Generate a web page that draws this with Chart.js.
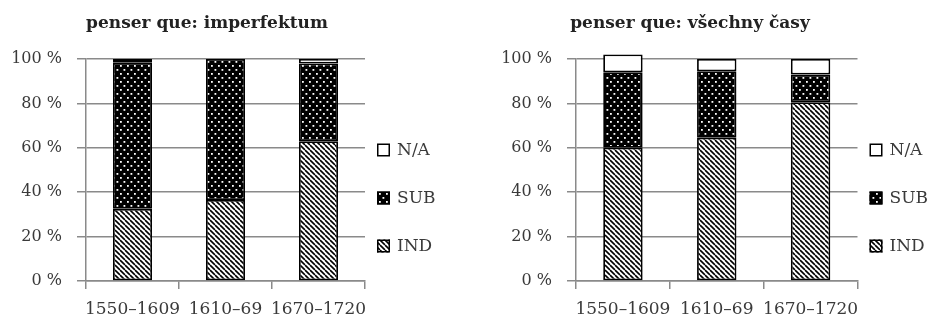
<!DOCTYPE html>
<html>
<head>
<meta charset="utf-8">
<script src="https://cdn.jsdelivr.net/npm/chart.js@4/dist/chart.umd.min.js"></script>
<style>
  html, body { margin: 0; padding: 0; background: #fff; }
  #wrap { display: flex; width: 931px; height: 317px; }
  canvas { display: block; }
</style>
</head>
<body>
<div id="wrap">
  <canvas id="c1" width="490" height="317"></canvas>
  <canvas id="c2" width="441" height="317"></canvas>
</div>
<script>
// ---- data ----
const categories = ['1550–1609', '1610–69', '1670–1720'];
const seriesNames = ['IND', 'SUB', 'N/A'];
const yTickLabels = ['0 %', '20 %', '40 %', '60 %', '80 %', '100 %'];

const titleLeft = 'penser que: imperfektum';
const indLeft = [32.5, 36.5, 63];
const subLeft = [66, 63.5, 35];
const naLeft  = [1.5, 0, 2];

const titleRight = 'penser que: všechny časy';
const indRight = [60, 64.5, 80.5];
const subRight = [34, 30, 12.5];
const naRight  = [8, 5.5, 7];

// ---- patterns ----
function makeHatch() {
  const s = 5;
  const c = document.createElement('canvas');
  c.width = s; c.height = s;
  const g = c.getContext('2d');
  g.fillStyle = '#fff'; g.fillRect(0, 0, s, s);
  g.strokeStyle = '#000'; g.lineWidth = 1.6;
  for (const o of [-s, 0, s]) {
    g.beginPath(); g.moveTo(o, 0); g.lineTo(o + s, s); g.stroke();
  }
  return g.createPattern(c, 'repeat');
}
function makeDots() {
  const w = 7, h = 8;
  const c = document.createElement('canvas');
  c.width = w; c.height = h;
  const g = c.getContext('2d');
  g.fillStyle = '#000'; g.fillRect(0, 0, w, h);
  g.fillStyle = '#fff';
  g.fillRect(1, 1, 1.8, 1.8);
  g.fillRect(4.5, 5, 1.8, 1.8);
  return g.createPattern(c, 'repeat');
}
const hatch = makeHatch();
const dots = makeDots();
const fills = [hatch, dots, '#ffffff'];

const FONT = '"DejaVu Serif", serif';
const GRID = '#8a8a8a';
const TEXT = '#3a3a3a';

function customPlugin(title, titleX) {
  return {
    id: 'custom',
    afterDraw(chart) {
      const ctx = chart.ctx;
      const ca = chart.chartArea;
      ctx.save();
      // title
      ctx.fillStyle = '#222';
      ctx.font = 'bold 17px ' + FONT;
      ctx.textAlign = 'center';
      ctx.textBaseline = 'alphabetic';
      ctx.fillText(title, titleX, 28);
      // legend (reverse order)
      const order = [2, 1, 0];
      const ys = [150, 198, 246];
      const bx = ca.right + 12;
      ctx.font = '17px ' + FONT;
      ctx.textAlign = 'left';
      ctx.textBaseline = 'middle';
      order.forEach((di, i) => {
        const y = ys[i];
        ctx.fillStyle = fills[di];
        ctx.fillRect(bx, y - 6.5, 13, 13);
        ctx.strokeStyle = '#000';
        ctx.lineWidth = 1.5;
        ctx.strokeRect(bx + 0.75, y - 5.75, 11.5, 11.5);
        ctx.fillStyle = TEXT;
        ctx.fillText(chart.data.datasets[di].label, bx + 20, y + 1);
      });
      ctx.restore();
    }
  };
}

function build(id, title, titleX, ind, sub, na, padRight) {
  const vals = [ind, sub, na];
  new Chart(document.getElementById(id), {
    type: 'bar',
    data: {
      labels: categories,
      datasets: seriesNames.map((n, i) => ({
        label: n,
        data: vals[i],
        backgroundColor: fills[i],
        borderColor: '#000',
        borderWidth: 1.8,
        borderSkipped: false,
        barPercentage: 0.42,
        categoryPercentage: 1,
        clip: false
      }))
    },
    options: {
      responsive: false,
      animation: false,
      layout: { padding: { top: 59, right: padRight, left: 0, bottom: 0 } },
      plugins: { legend: { display: false }, title: { display: false }, tooltip: { enabled: false } },
      scales: {
        x: {
          stacked: true,
          grid: { display: true, offset: true, drawOnChartArea: false, drawTicks: true, tickLength: 8, color: GRID, lineWidth: 1.5 },
          border: { display: true, color: GRID, width: 1.5 },
          ticks: { color: TEXT, font: { family: FONT, size: 17 }, padding: 10, maxRotation: 0, autoSkip: false },
          afterFit(s) { s.height = 36; }
        },
        y: {
          stacked: true,
          min: 0, max: 100,
          grid: { color: GRID, lineWidth: 1.5, tickLength: 9, drawTicks: true },
          border: { display: true, color: GRID, width: 1.5 },
          ticks: {
            stepSize: 20, color: TEXT, font: { family: FONT, size: 16 }, padding: 15,
            callback: (v, i) => yTickLabels[i]
          },
          afterFit(s) { s.width = 86; }
        }
      }
    },
    plugins: [customPlugin(title, titleX)]
  });
}

build('c1', titleLeft, 207, indLeft, subLeft, naLeft, 125);
build('c2', titleRight, 200, indRight, subRight, naRight, 73.5);
</script>
</body>
</html>
